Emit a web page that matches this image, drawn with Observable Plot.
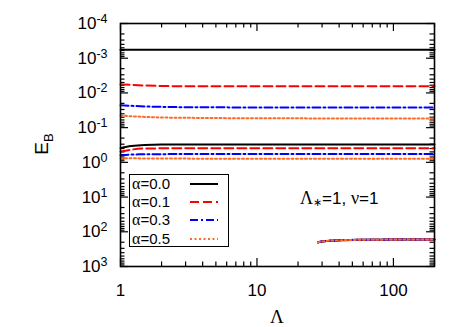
<!DOCTYPE html>
<html><head><meta charset="utf-8">
<script src="https://cdn.jsdelivr.net/npm/d3@7"></script>
<script src="https://cdn.jsdelivr.net/npm/@observablehq/plot@0.6"></script>
<style>
body{margin:0;background:#fff;}
#wrap{position:relative;width:466px;height:327px;font-family:"Liberation Sans",Arial,sans-serif;color:#000;}
#wrap svg{position:absolute;left:0;top:0;}
.ov{position:absolute;white-space:nowrap;line-height:1;}
.serif{font-family:"Liberation Serif","DejaVu Serif",serif;}
#legend{position:absolute;left:129px;top:174px;width:100px;height:73px;box-sizing:border-box;border:1.5px solid #000;background:#fff;}
#legend .row{position:absolute;left:2px;font-size:15px;line-height:1;transform:translateY(-50%);}
#legend svg{position:absolute;left:0;top:0;}
</style></head><body>
<div id="wrap"></div>
<script>
// ---------- data ----------
const alphas = ["0.0", "0.1", "0.3", "0.5"];
const colors = ["#000000", "#ff0000", "#0000ff", "#ff6a2b"];
const dashes = [null, "9,4", "8,3,2,3", "2,2.5"];

const lambdaMain = [1, 1.2, 1.5, 2, 3, 5, 10, 20, 50, 100, 200];
// upper branch
const upper00 = [5.7e-4, 5.7e-4, 5.7e-4, 5.7e-4, 5.7e-4, 5.7e-4, 5.7e-4, 5.7e-4, 5.7e-4, 5.7e-4, 5.7e-4];
const upper01 = [5.7e-3, 5.85e-3, 6.1e-3, 6.3e-3, 6.4e-3, 6.4e-3, 6.45e-3, 6.45e-3, 6.45e-3, 6.45e-3, 6.45e-3];
const upper03 = [0.0226, 0.0235, 0.0245, 0.0252, 0.0258, 0.026, 0.0262, 0.0263, 0.0264, 0.0264, 0.0264];
const upper05 = [0.0448, 0.047, 0.049, 0.051, 0.052, 0.053, 0.0535, 0.054, 0.0545, 0.0547, 0.0547];
// middle branch
const middle00 = [0.39, 0.34, 0.315, 0.308, 0.307, 0.307, 0.307, 0.307, 0.307, 0.307, 0.307];
const middle01 = [0.49, 0.43, 0.40, 0.395, 0.393, 0.393, 0.393, 0.393, 0.393, 0.393, 0.393];
const middle03 = [0.62, 0.595, 0.585, 0.58, 0.578, 0.577, 0.576, 0.575, 0.575, 0.575, 0.575];
const middle05 = [0.76, 0.765, 0.77, 0.775, 0.78, 0.785, 0.79, 0.79, 0.79, 0.79, 0.79];
// lower branch
const lambdaLow = [28, 30, 33, 40, 60, 100, 200];
const lower00 = [203, 191, 183, 176, 170, 168, 168];
const lower01 = [201, 190, 182, 176, 170, 168, 168];
const lower03 = [201, 190, 182, 176, 170, 168, 168];
const lower05 = [201, 190, 182, 176, 170, 168, 168];

// ticks
const xMajor = [1, 10, 100];
const xMinor = [2, 3, 4, 5, 6, 7, 8, 9, 20, 30, 40, 50, 60, 70, 80, 90, 200];
const yMajor = [1e-4, 1e-3, 1e-2, 1e-1, 1e0, 1e1, 1e2, 1e3];
const yMinor = [];
for (let e = -4; e < 3; e++) for (let k = 2; k <= 9; k++) yMinor.push(k * Math.pow(10, e));

// ---------- build table ----------
const series = [
  ["upper", lambdaMain, [upper00, upper01, upper03, upper05]],
  ["middle", lambdaMain, [middle00, middle01, middle03, middle05]],
  ["lower", lambdaLow, [lower00, lower01, lower03, lower05]]
];
const rows = [];
for (const [branch, xs, ys] of series) {
  ys.forEach((arr, i) => arr.forEach((v, j) => rows.push({branch, alpha: alphas[i], lambda: xs[j], E: v})));
}

// ---------- layout ----------
const W = 466, H = 327, mL = 120, mT = 23, mR = 32, mB = 61;
const pW = W - mL - mR, pH = H - mT - mB;

const lineMarks = alphas.map((a, i) => Plot.line(rows.filter(r => r.alpha === a), {
  x: "lambda", y: "E", z: "branch", stroke: colors[i], strokeWidth: 2,
  strokeDasharray: dashes[i] || undefined, curve: "monotone-x"
}));

const plot = Plot.plot({
  width: W, height: H,
  marginLeft: mL, marginTop: mT, marginRight: mR, marginBottom: mB,
  style: {fontFamily: '"Liberation Sans", Arial, sans-serif', background: "transparent"},
  x: {type: "log", domain: [1, 200]},
  y: {type: "log", domain: [1e-4, 1e3], reverse: true},
  marks: [
    Plot.tickX(xMajor, {x: d => d, insetTop: pH - 8, stroke: "#000", strokeWidth: 1.2}),
    Plot.tickX(xMajor, {x: d => d, insetBottom: pH - 8, stroke: "#000", strokeWidth: 1.2}),
    Plot.tickX(xMinor, {x: d => d, insetTop: pH - 4.5, stroke: "#000", strokeWidth: 1.2}),
    Plot.tickX(xMinor, {x: d => d, insetBottom: pH - 4.5, stroke: "#000", strokeWidth: 1.2}),
    Plot.tickY(yMajor, {y: d => d, insetRight: pW - 8, stroke: "#000", strokeWidth: 1.2}),
    Plot.tickY(yMajor, {y: d => d, insetLeft: pW - 8, stroke: "#000", strokeWidth: 1.2}),
    Plot.tickY(yMinor, {y: d => d, insetRight: pW - 4.5, stroke: "#000", strokeWidth: 1.2}),
    Plot.tickY(yMinor, {y: d => d, insetLeft: pW - 4.5, stroke: "#000", strokeWidth: 1.2}),
    ...lineMarks,
    Plot.frame({stroke: "#000", strokeWidth: 1.6}),
    Plot.axisX({ticks: xMajor, tickSize: 0, tickPadding: 17, tickFormat: d => String(d), fontSize: 17, label: null}),
    Plot.axisY({ticks: yMajor, tickSize: 0, tickPadding: 13, tickFormat: d => "10^" + Math.round(Math.log10(d)), fontSize: 17, label: null})
  ]
});

// superscript exponents on y tick labels
d3.select(plot).selectAll('g[aria-label="y-axis tick label"] text').each(function () {
  const parts = this.textContent.split("^");
  this.textContent = parts[0];
  d3.select(this).append("tspan").attr("dy", "-0.48em").attr("font-size", "12.5px").text(parts[1]);
});

const wrap = document.getElementById("wrap");
wrap.appendChild(plot);

// y label
const yl = document.createElement("div");
yl.className = "ov";
yl.style.cssText = "left:41px;top:144px;font-size:19px;transform:translate(-50%,-50%) rotate(-90deg);";
yl.innerHTML = 'E<span style="font-size:13px;position:relative;top:5px;">B</span>';
wrap.appendChild(yl);

// x label
const xl = document.createElement("div");
xl.className = "ov serif";
xl.style.cssText = "left:277px;top:316px;font-size:19px;transform:translate(-50%,-50%);";
xl.textContent = "Λ";
wrap.appendChild(xl);

// annotation
const an = document.createElement("div");
an.className = "ov";
an.style.cssText = "left:300px;top:198px;font-size:17px;transform:translateY(-50%);";
an.innerHTML = '<span class="serif" style="font-size:18px">Λ</span><span style="font-size:11px;position:relative;top:2px;">∗</span>=1, <span class="serif" style="font-size:18px">ν</span>=1';
wrap.appendChild(an);

// legend
const lg = document.createElement("div");
lg.id = "legend";
const ns = "http://www.w3.org/2000/svg";
const lsvg = document.createElementNS(ns, "svg");
lsvg.setAttribute("width", "97");
lsvg.setAttribute("height", "70");
const rowY = [9, 27, 45, 64];
alphas.forEach((a, i) => {
  const r = document.createElement("div");
  r.className = "row";
  r.style.top = rowY[i] + "px";
  r.innerHTML = '<span class="serif" style="font-size:16px">α</span>=' + a;
  lg.appendChild(r);
  const ln = document.createElementNS(ns, "line");
  ln.setAttribute("x1", 60); ln.setAttribute("x2", 88);
  ln.setAttribute("y1", rowY[i]); ln.setAttribute("y2", rowY[i]);
  ln.setAttribute("stroke", colors[i]); ln.setAttribute("stroke-width", 2);
  if (dashes[i]) ln.setAttribute("stroke-dasharray", dashes[i]);
  lsvg.appendChild(ln);
});
lg.appendChild(lsvg);
wrap.appendChild(lg);
</script>
</body></html>
